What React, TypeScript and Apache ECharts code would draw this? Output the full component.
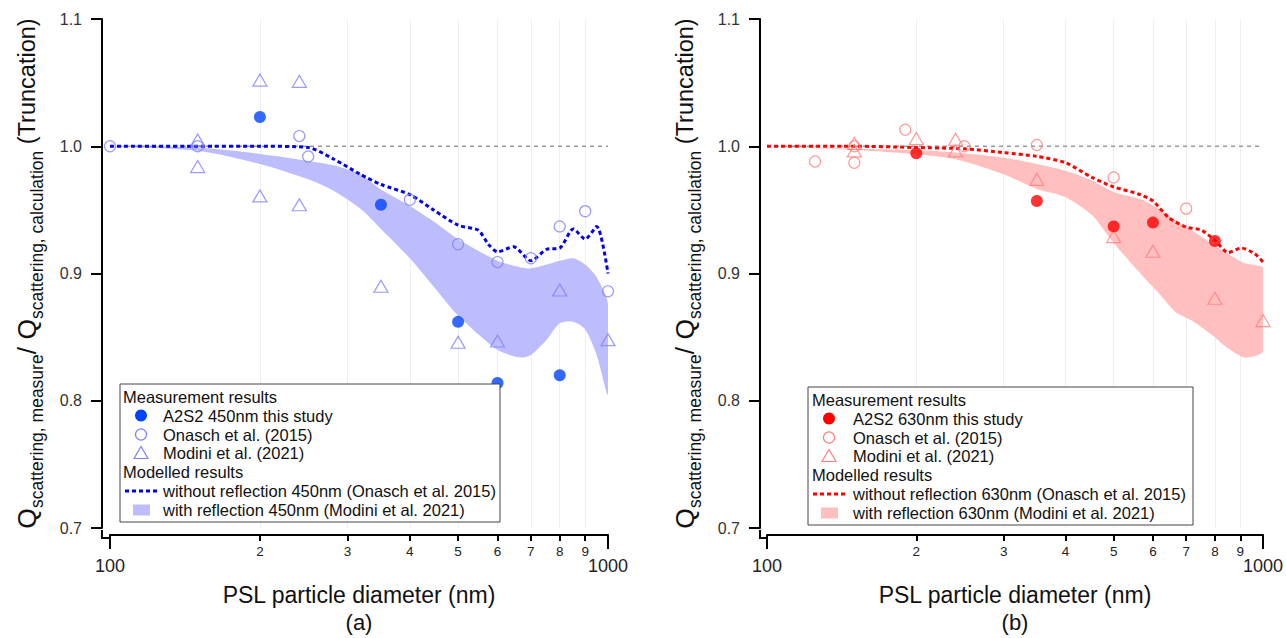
import React, { useEffect, useRef } from "react";
import * as echarts from "echarts";

// ---------- axis ticks ----------
const minorTickValues = [200, 300, 400, 500, 600, 700, 800, 900];
const majorTickValues = [100, 1000];
const yTickValues = [0.7, 0.8, 0.9, 1.0, 1.1];
const refLineD = [100, 1000];
const refLineQ = [1.0, 1.0];

// ---------- panel (a) 450 nm ----------
const a2s2_450_d = [200, 350, 500, 600, 800];
const a2s2_450_q = [1.023, 0.954, 0.862, 0.814, 0.82];
const onasch_450_d = [100, 150, 240, 250, 400, 500, 600, 700, 800, 900, 1000];
const onasch_450_q = [1.0, 1.0, 1.008, 0.992, 0.958, 0.923, 0.909, 0.912, 0.937, 0.949, 0.886];
const modini_450_d = [150, 150, 200, 200, 240, 240, 350, 500, 600, 800, 1000];
const modini_450_q = [1.005, 0.984, 1.052, 0.961, 1.051, 0.954, 0.89, 0.846, 0.847, 0.887, 0.848];
const noRefl_450_d = [100, 150, 200, 250, 281, 318, 350, 400, 446, 500, 549, 575, 600, 646, 700, 753, 800, 852, 900, 949, 1000];
const noRefl_450_q = [1.0, 1.0, 1.0, 0.999, 0.99, 0.978, 0.97, 0.962, 0.95, 0.938, 0.934, 0.923, 0.917, 0.921, 0.91, 0.919, 0.92, 0.935, 0.927, 0.937, 0.9];
const band_450_d = [100, 150, 200, 250, 281, 318, 350, 400, 446, 500, 600, 666, 700, 753, 800, 852, 900, 949, 1000];
const band_450_upper = [1.0, 0.999, 0.994, 0.9885, 0.985, 0.978, 0.966, 0.953, 0.941, 0.927, 0.91, 0.905, 0.904, 0.907, 0.91, 0.912, 0.907, 0.897, 0.876];
const band_450_lower = [1.0, 0.9964, 0.986, 0.974, 0.965, 0.951, 0.935, 0.912, 0.89, 0.867, 0.84, 0.834, 0.836, 0.848, 0.861, 0.862, 0.856, 0.836, 0.805];

// ---------- panel (b) 630 nm ----------
const a2s2_630_d = [200, 350, 500, 600, 800];
const a2s2_630_q = [0.9945, 0.957, 0.937, 0.94, 0.9255];
const onasch_630_d = [125, 150, 150, 190, 250, 350, 500, 700];
const onasch_630_q = [0.988, 0.987, 1.0, 1.013, 1.0, 1.001, 0.9755, 0.951];
const modini_630_d = [150, 150, 200, 240, 240, 350, 500, 600, 800, 1000];
const modini_630_q = [1.0023, 0.9964, 1.006, 1.0055, 0.9964, 0.974, 0.929, 0.9175, 0.8805, 0.863];
const noRefl_630_d = [100, 150, 200, 250, 300, 350, 400, 452, 500, 561, 600, 645, 700, 752, 800, 851, 904, 962, 1000];
const noRefl_630_q = [1.0, 1.0, 0.999, 0.998, 0.995, 0.992, 0.987, 0.9755, 0.968, 0.9625, 0.957, 0.944, 0.9365, 0.934, 0.926, 0.9165, 0.92, 0.9156, 0.909];
const band_630_d = [100, 150, 200, 240, 300, 350, 400, 452, 500, 570, 615, 665, 718, 800, 838, 918, 1000];
const band_630_upper = [1.0, 0.998, 0.997, 0.995, 0.991, 0.986, 0.9807, 0.973, 0.964, 0.958, 0.951, 0.942, 0.934, 0.922, 0.917, 0.908, 0.904];
const band_630_lower = [1.0, 0.997, 0.9937, 0.9898, 0.978, 0.9664, 0.96, 0.946, 0.924, 0.8987, 0.885, 0.87, 0.863, 0.85, 0.843, 0.834, 0.839];

const FONT = '"Liberation Sans", Arial, Helvetica, sans-serif';
const lg = (v: number) => Math.log10(v);
const pts = (d: number[], q: number[]) => d.map((v, i) => [lg(v), q[i]]);

type Panel = {
  grid: number;
  left: number;
  yOffset: number;
  wl: string;
  label: string;
  dark: string;
  light: string;
  line: string;
  band: string;
  a2s2: [number[], number[]];
  onasch: [number[], number[]];
  modini: [number[], number[]];
  noRefl: [number[], number[]];
  bandD: number[];
  bandU: number[];
  bandL: number[];
  legend: { x: number; y: number; w: number; h: number; head: number; mark: number; text: number };
};

const GRID_TOP = 19;
const GRID_W = 498;
const GRID_H = 512;
const X_OFFSET = 7;

const panels: Panel[] = [
  {
    grid: 0, left: 110, yOffset: 8, wl: "450nm", label: "(a)", dark: "#0044ff", light: "#8080ff", line: "#0000ee", band: "#bdbdfd",
    a2s2: [a2s2_450_d, a2s2_450_q], onasch: [onasch_450_d, onasch_450_q], modini: [modini_450_d, modini_450_q],
    noRefl: [noRefl_450_d, noRefl_450_q], bandD: band_450_d, bandU: band_450_upper, bandL: band_450_lower,
    legend: { x: 120, y: 384, w: 380, h: 138, head: 3, mark: 21, text: 43 },
  },
  {
    grid: 1, left: 767, yOffset: 7, wl: "630nm", label: "(b)", dark: "#ff0000", light: "#ff7f7f", line: "#ff0000", band: "#ffbfbf",
    a2s2: [a2s2_630_d, a2s2_630_q], onasch: [onasch_630_d, onasch_630_q], modini: [modini_630_d, modini_630_q],
    noRefl: [noRefl_630_d, noRefl_630_q], bandD: band_630_d, bandU: band_630_upper, bandL: band_630_lower,
    legend: { x: 808, y: 387, w: 385, h: 138, head: 4, mark: 21, text: 45 },
  },
];

function legendElements(p: Panel) {
  const { x, y, w, h, head, mark, text } = p.legend;
  const rows = [13, 31.5, 50.5, 69, 88, 107, 126];
  const z = 100;
  const txt = (s: string, tx: number, ty: number) => ({
    type: "text", z, x: tx, y: ty,
    style: { text: s, fill: "#111", fontSize: 16.5, fontFamily: FONT, verticalAlign: "middle", align: "left" },
  });
  const mx = x + mark;
  const els: any[] = [
    { type: "rect", z: z - 1, shape: { x, y, width: w, height: h }, style: { fill: "#fff", stroke: "#444", lineWidth: 1 } },
    txt("Measurement results", x + head, y + rows[0]),
    { type: "circle", z, shape: { cx: mx, cy: y + rows[1], r: 6 }, style: { fill: p.dark } },
    txt(`A2S2 ${p.wl} this study`, x + text, y + rows[1]),
    { type: "circle", z, shape: { cx: mx, cy: y + rows[2], r: 5.5 }, style: { fill: "none", stroke: p.light, lineWidth: 1.2 } },
    txt("Onasch et al. (2015)", x + text, y + rows[2]),
    {
      type: "polygon", z,
      shape: { points: [[mx, y + rows[3] - 6.5], [mx + 7, y + rows[3] + 5.5], [mx - 7, y + rows[3] + 5.5]] },
      style: { fill: "none", stroke: p.light, lineWidth: 1.2 },
    },
    txt("Modini et al. (2021)", x + text, y + rows[3]),
    txt("Modelled results", x + head, y + rows[4]),
    {
      type: "line", z, shape: { x1: x + 5, y1: y + rows[5], x2: x + 38, y2: y + rows[5] },
      style: { stroke: p.line, lineWidth: 3, lineDash: [4, 3] },
    },
    txt(`without reflection ${p.wl} (Onasch et al. 2015)`, x + text, y + rows[5]),
    { type: "rect", z, shape: { x: x + 13, y: y + rows[6] - 5.5, width: 17, height: 11 }, style: { fill: p.band } },
    txt(`with reflection ${p.wl} (Modini et al. 2021)`, x + text, y + rows[6]),
  ];
  return els;
}

function cornerElements(p: Panel) {
  const ax = p.left - p.yOffset;
  const bottom = GRID_TOP + GRID_H;
  return [
    { type: "line", z: 50, shape: { x1: ax, y1: bottom - 1, x2: ax, y2: bottom + X_OFFSET + 1 }, style: { stroke: "#000", lineWidth: 2 } },
    { type: "line", z: 50, shape: { x1: ax - 1, y1: bottom + X_OFFSET, x2: p.left, y2: bottom + X_OFFSET }, style: { stroke: "#000", lineWidth: 2 } },
  ];
}

function buildOption() {
  const minorLog = minorTickValues.map(lg);
  const majorLog = majorTickValues.map(lg);
  const grids = panels.map((p) => ({ left: p.left, top: GRID_TOP, width: GRID_W, height: GRID_H }));
  const xAxes: any[] = [];
  const yAxes: any[] = [];
  const series: any[] = [];
  let graphics: any[] = [];

  panels.forEach((p) => {
    const g = p.grid;
    const xi = xAxes.length;
    xAxes.push({
      type: "value", gridIndex: g, min: 2, max: 3, position: "bottom", offset: X_OFFSET,
      axisLine: { show: true, onZero: false, lineStyle: { color: "#000", width: 2 } },
      axisTick: { show: true, customValues: minorLog, length: 6, lineStyle: { color: "#000", width: 2 } },
      axisLabel: {
        show: true, customValues: minorLog, fontSize: 13.5, color: "#222", fontFamily: FONT, margin: 9,
        formatter: (v: number) => String(Math.round(Math.pow(10, v) / 100)),
      },
      splitLine: { show: true, lineStyle: { color: "#eeeeee", width: 1 } },
    });
    xAxes.push({
      type: "value", gridIndex: g, min: 2, max: 3, position: "bottom", offset: X_OFFSET,
      axisLine: { show: false },
      axisTick: { show: true, customValues: majorLog, length: 14, lineStyle: { color: "#000", width: 2 } },
      axisLabel: {
        show: true, customValues: majorLog, fontSize: 18, color: "#222", fontFamily: FONT, margin: 22,
        formatter: (v: number) => String(Math.round(Math.pow(10, v))),
      },
      splitLine: { show: false },
      name: `{t|PSL particle diameter (nm)}\n{s|${p.label}}`,
      nameLocation: "middle", nameGap: 47,
      nameTextStyle: {
        rich: {
          t: { fontSize: 23, lineHeight: 26, color: "#111", fontFamily: FONT },
          s: { fontSize: 22, lineHeight: 28, color: "#111", fontFamily: FONT },
        },
      },
    });
    const yi = yAxes.length;
    yAxes.push({
      type: "value", gridIndex: g, min: 0.7, max: 1.1, position: "left", offset: p.yOffset,
      axisLine: { show: true, onZero: false, lineStyle: { color: "#000", width: 2 } },
      axisTick: { show: true, customValues: yTickValues, length: 11, lineStyle: { color: "#000", width: 2 } },
      axisLabel: {
        show: true, customValues: yTickValues, fontSize: 16, color: "#333", fontFamily: FONT, margin: 20,
        formatter: (v: number) => v.toFixed(1),
      },
      splitLine: { show: false },
      name: "{q|Q}{s|scattering, measure}{q|/ Q}{s|scattering, calculation}{t| (Truncation)}",
      nameLocation: "middle", nameRotate: 90, nameGap: 56,
      nameTextStyle: {
        rich: {
          q: { fontSize: 26.5, lineHeight: 38, color: "#111", fontFamily: FONT, verticalAlign: "middle" },
          s: { fontSize: 17.5, lineHeight: 18, color: "#111", fontFamily: FONT, verticalAlign: "bottom" },
          t: { fontSize: 23.5, lineHeight: 38, color: "#111", fontFamily: FONT, verticalAlign: "middle" },
        },
      },
    });
    const common = { xAxisIndex: xi, yAxisIndex: yi };
    series.push({
      ...common, type: "custom", silent: true, clip: true, z: 1,
      data: p.bandD.map((d, i) => [lg(d), p.bandU[i], p.bandL[i]]),
      encode: { x: 0, y: [1, 2] },
      renderItem: (params: any, api: any) => {
        if (params.dataIndex !== 0) return null;
        const upper: number[][] = [];
        const lower: number[][] = [];
        p.bandD.forEach((d, i) => {
          upper.push(api.coord([lg(d), p.bandU[i]]));
          if (i > 0 || p.bandU[i] !== p.bandL[i]) lower.push(api.coord([lg(d), p.bandL[i]]));
        });
        return {
          type: "polygon",
          shape: { points: upper.concat(lower.reverse()), smooth: 0.25 },
          style: { fill: p.band, stroke: "none" },
        };
      },
    });
    series.push({
      ...common, type: "line", symbol: "none", silent: true, z: 2,
      lineStyle: { color: "#999", width: 1.5, type: [4, 4] },
      data: pts(refLineD, refLineQ),
    });
    series.push({
      ...common, type: "line", symbol: "none", smooth: 0.25, silent: true, z: 3,
      lineStyle: { color: p.line, width: 3, type: [4, 3] },
      data: pts(p.noRefl[0], p.noRefl[1]),
    });
    series.push({
      ...common, type: "scatter", symbol: "circle", symbolSize: 11, z: 4,
      itemStyle: { color: "rgba(0,0,0,0)", borderColor: p.light, borderWidth: 1.2 },
      data: pts(p.onasch[0], p.onasch[1]),
    });
    series.push({
      ...common, type: "scatter", symbol: "triangle", symbolSize: [14, 12], z: 4,
      itemStyle: { color: "rgba(0,0,0,0)", borderColor: p.light, borderWidth: 1.2 },
      data: pts(p.modini[0], p.modini[1]),
    });
    series.push({
      ...common, type: "scatter", symbol: "circle", symbolSize: 12, z: 5,
      itemStyle: { color: p.dark },
      data: pts(p.a2s2[0], p.a2s2[1]),
    });
    graphics = graphics.concat(cornerElements(p), legendElements(p));
  });

  return {
    animation: false,
    backgroundColor: "#fff",
    textStyle: { fontFamily: FONT },
    grid: grids,
    xAxis: xAxes,
    yAxis: yAxes,
    series,
    graphic: { elements: graphics },
  };
}

export default function App() {
  const ref = useRef<HTMLDivElement>(null);
  useEffect(() => {
    if (!ref.current) return;
    const chart = echarts.init(ref.current, undefined, { renderer: "svg" });
    chart.setOption(buildOption() as any);
    return () => chart.dispose();
  }, []);
  return (
    <div
      ref={ref}
      style={{ position: "absolute", left: 0, top: 0, width: 1286, height: 638, background: "#fff" }}
    />
  );
}
